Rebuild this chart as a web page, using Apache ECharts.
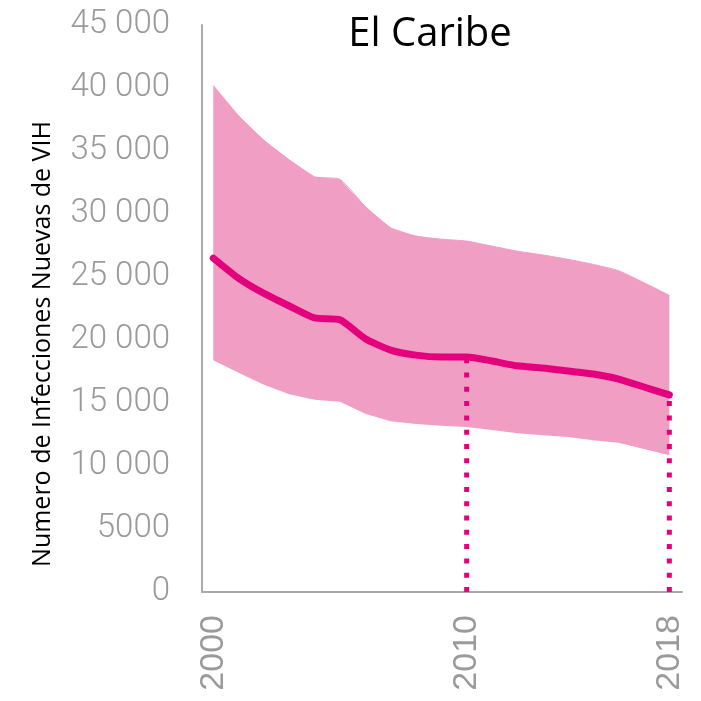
<!DOCTYPE html>
<html>
<head>
<meta charset="utf-8">
<script src="https://cdn.jsdelivr.net/npm/echarts@6/dist/echarts.min.js"></script>
<style>html,body{margin:0;padding:0;background:#fff}#c{width:701px;height:701px}</style>
</head>
<body>
<div id="c"></div>
<script>
var years = [2000,2001,2002,2003,2004,2005,2006,2007,2008,2009,2010,2011,2012,2013,2014,2015,2016,2017,2018];
var estimate = [26500,24900,23700,22700,21750,21600,20100,19200,18800,18650,18650,18330,17950,17780,17540,17300,16900,16270,15640];
var upperBound = [40200,37800,35850,34300,32950,32750,30600,28900,28250,28000,27850,27450,27050,26750,26400,26000,25500,24550,23550];
var lowerBound = [18400,17400,16450,15700,15250,15100,14150,13550,13330,13200,13100,12850,12600,12450,12300,12050,11850,11350,10850];
var xTickYears = [2000, 2010, 2018];
var markerYears = [2010, 2018];
var yTickLabels = ['0','5000','10 000','15 000','20 000','25 000','30 000','35 000','40 000','45 000'];
var titleText = 'El Caribe';
var yAxisName = 'Numero de Infecciones Nuevas de VIH';

var MAGENTA = '#e4007d';
var BAND = '#f09ec4';

var lineData = years.map(function(y,i){return [y, estimate[i]];});
var bandRows = years.map(function(y,i){return [y, lowerBound[i], upperBound[i]];});

var series = [
  {type:'custom', data:bandRows, silent:true, z:1,
    encode:{x:0, y:[1,2]},
    renderItem:function(params, api){
      if (params.dataIndex !== 0) return null;
      var top = [], bottom = [];
      for (var i = 0; i < bandRows.length; i++) {
        top.push(api.coord([bandRows[i][0], bandRows[i][2]]));
        bottom.unshift(api.coord([bandRows[i][0], bandRows[i][1]]));
      }
      return {type:'group', children:[
        {type:'polyline', shape:{points:top, smooth:0.2}, style:{stroke:BAND, lineWidth:1, fill:null}},
        {type:'polygon', shape:{points:top.concat(bottom)}, style:{fill:BAND}}
      ]};
    }
  }
];
markerYears.forEach(function(my){
  var idx = years.indexOf(my);
  series.push({type:'line', data:[[my,0],[my,estimate[idx]]], symbol:'none', silent:true, z:2,
    lineStyle:{color:MAGENTA, width:5, type:[5,9.3], cap:'butt'}});
});
series.push({type:'line', data:lineData, symbol:'none', z:3, smooth:0.2,
  lineStyle:{color:MAGENTA, width:7, cap:'round', join:'round'}});

var chart = echarts.init(document.getElementById('c'), null, {renderer:'canvas'});
chart.setOption({
  animation:false,
  backgroundColor:'#fff',
  grid:{left:202, top:25, right:19, bottom:109, containLabel:false},
  xAxis:{type:'value', min:1999.554, max:2018.5,
    axisLine:{show:true, lineStyle:{color:'#aaaaaa', width:2}},
    axisTick:{show:false},
    splitLine:{show:false},
    axisLabel:{customValues:xTickYears, rotate:90, margin:23, color:'#9a9a9a',
      fontFamily:'Liberation Sans', fontSize:34, formatter:function(v){return String(v);}}
  },
  yAxis:{type:'value', min:0, max:45000, interval:5000,
    axisLine:{show:true, lineStyle:{color:'#aaaaaa', width:2}},
    axisTick:{show:false},
    splitLine:{show:false},
    axisLabel:{margin:32, color:'#9a9a9a', fontFamily:'Roboto', fontWeight:300, fontSize:33,
      formatter:function(v){return yTickLabels[Math.round(v/5000)];}}
  },
  graphic:[
    {type:'text', x:430, y:35, style:{text:titleText, fill:'#000', font:'40px "Open Sans"', align:'center', verticalAlign:'middle'}},
    {type:'text', x:43, y:344, rotation:Math.PI/2, style:{text:yAxisName, fill:'#000', font:'25px "Open Sans"', align:'center', verticalAlign:'middle'}}
  ],
  series:series
});
</script>
</body>
</html>
